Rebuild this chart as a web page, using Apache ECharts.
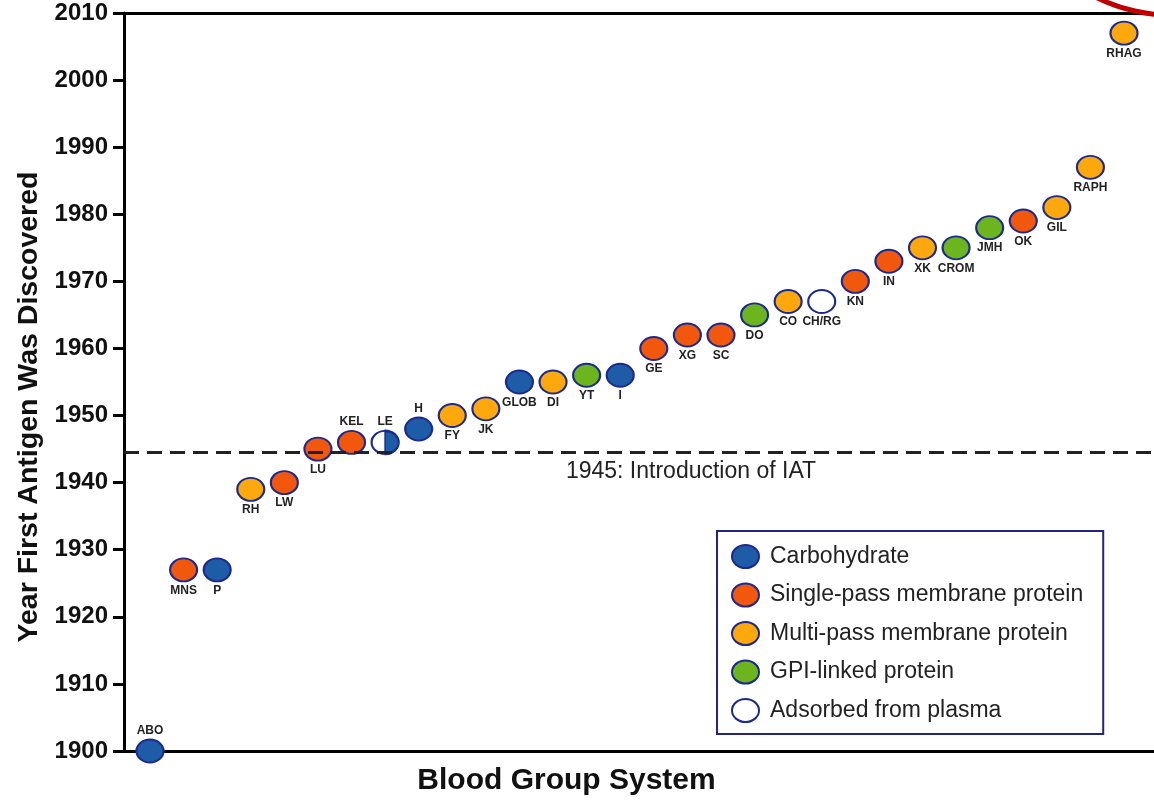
<!DOCTYPE html>
<html>
<head>
<meta charset="utf-8">
<script src="https://cdn.jsdelivr.net/npm/echarts@6/dist/echarts.min.js"></script>
<style>
html,body{margin:0;padding:0;background:#fff;}
#chart{width:1154px;height:801px;}
</style>
</head>
<body>
<div id="chart"></div>
<script>
// ---- data ----
const systems = ['ABO','MNS','P','RH','LW','LU','KEL','LE','H','FY','JK','GLOB','DI','YT','I','GE','XG','SC','DO','CO','CH/RG','KN','IN','XK','CROM','JMH','OK','GIL','RAPH','RHAG'];
const years   = [1900,1927,1927,1939,1940,1945,1946,1946,1948,1950,1951,1955,1955,1956,1956,1960,1962,1962,1965,1967,1967,1970,1973,1975,1975,1978,1979,1981,1987,2007];
const types   = ['C','S','C','M','S','S','S','A','C','M','M','C','M','G','C','S','S','S','G','M','A','S','S','M','G','G','S','M','M','M'];
const alsoCarbohydrate = ['LE']; // half-filled: adsorbed carbohydrate
const typeKeys  = ['C','S','M','G','A'];
const typeNames = ['Carbohydrate','Single-pass membrane protein','Multi-pass membrane protein','GPI-linked protein','Adsorbed from plasma'];
const yTicks = {min:1900, max:2010, step:10};
const iatYear = 1944.5;
const iatLabel = '1945: Introduction of IAT';

// ---- style ----
const colors = {C:'#1e5ca8', S:'#f2570e', M:'#fda80c', G:'#6db51e', A:'#ffffff'};
const labelAbove = ['ABO','KEL','LE','H'];
const font = 'Arial, "Liberation Sans", Helvetica, sans-serif';
const ellipse = 'path://M0,1 A1,1 0 1,1 2,1 A1,1 0 1,1 0,1 Z';
const halfRight = 'path://M0,0 A1,1 0 0,1 0,2 Z';
const mSize = [27,23];

const series = typeKeys.map((k, ti) => {
  const data = [];
  systems.forEach((s, i) => {
    if (types[i] === k) {
      data.push({value:[i, years[i]], name:s,
        label:{position: labelAbove.includes(s) ? 'top' : 'bottom'}});
    }
  });
  if (k === 'C') {
    systems.forEach((s, i) => {
      if (alsoCarbohydrate.includes(s)) {
        data.push({value:[i, years[i]], name:s, symbol:halfRight,
          symbolSize:[mSize[0]/2, mSize[1]], symbolOffset:[mSize[0]/4, 0],
          label:{show:false}, z:5});
      }
    });
  }
  return {
    name: typeNames[ti],
    type: 'scatter',
    symbol: ellipse,
    symbolSize: mSize,
    z: k === 'C' ? 4 : 3,
    itemStyle: {color: colors[k], borderColor:'#1b2a8c', borderWidth:2, opacity:1},
    label: {show:true, formatter: p => p.name, distance:2, fontSize:12, fontWeight:'bold',
            color:'#222', fontFamily:font},
    emphasis: {disabled:true},
    data: data
  };
});

series.push({
  name: 'iat', type:'line', data:[], z:1, silent:true,
  markLine: {
    silent:true, symbol:['none','none'],
    lineStyle:{color:'#222', width:3, type:[15,8]},
    label:{show:true, position:'insideMiddleBottom', formatter: iatLabel, fontSize:23,
           fontFamily:font, color:'#222', distance:8, padding:[0,0,0,104]},
    data:[{yAxis: iatYear}]
  }
});

const chart = echarts.init(document.getElementById('chart'));
chart.setOption({
  animation:false,
  backgroundColor:'#fff',
  grid:{left:124, right:-2, top:13, bottom:48, containLabel:false},
  xAxis:[{
    type:'value', min:-0.774, max:29.893, position:'bottom',
    name:'Blood Group System', nameLocation:'middle', nameGap:15,
    nameTextStyle:{fontSize:30, fontWeight:'bold', color:'#111', fontFamily:font, padding:[0,145,0,0]},
    axisLine:{show:true, onZero:false, lineStyle:{color:'#000', width:3}},
    axisTick:{show:false}, axisLabel:{show:false}, splitLine:{show:false}
  },{
    type:'value', min:-0.774, max:29.893, position:'top',
    axisLine:{show:true, onZero:false, lineStyle:{color:'#000', width:3}},
    axisTick:{show:false}, axisLabel:{show:false}, splitLine:{show:false}
  }],
  yAxis:{
    type:'value', min:yTicks.min, max:yTicks.max, interval:yTicks.step,
    name:'Year First Antigen Was Discovered', nameLocation:'middle', nameGap:78, nameRotate:90,
    nameTextStyle:{fontSize:28.5, fontWeight:'bold', color:'#111', fontFamily:font, padding:[0,50,0,0]},
    axisLine:{show:true, onZero:false, lineStyle:{color:'#000', width:3}},
    axisTick:{show:true, length:11, lineStyle:{color:'#000', width:3}},
    axisLabel:{fontSize:24, fontWeight:'bold', color:'#111', fontFamily:font, margin:16,
               formatter: v => String(v)},
    splitLine:{show:false}
  },
  legend:{
    orient:'vertical', left:717, top:531,
    data: typeNames.map(n => ({name:n, icon:ellipse})),
    itemWidth:27, itemHeight:23, itemGap:13.5, symbolKeepAspect:false,
    padding:[13,20,11,14],
    borderColor:'#22267e', borderWidth:2, backgroundColor:'#fff',
    textStyle:{fontSize:23, lineHeight:23, color:'#222', fontFamily:font, padding:[0,0,0,6]},
    selectedMode:false
  },
  graphic:[{
    type:'arc', silent:true, z:100,
    shape:{cx:1171, cy:-152, r:167, startAngle:80*Math.PI/180, endAngle:125*Math.PI/180},
    style:{stroke:'#c00000', lineWidth:5, fill:null}
  }],
  series: series
});
</script>
</body>
</html>
